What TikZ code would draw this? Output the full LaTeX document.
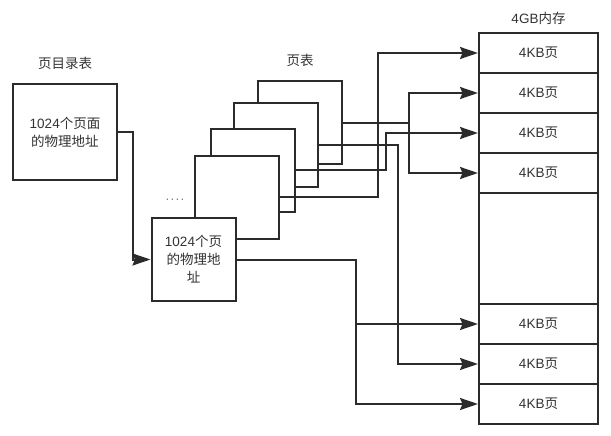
\documentclass[tikz,border=0pt]{standalone}
\usepackage{fontspec}
\setmainfont{Liberation Sans}
\newfontfamily\cjk{Noto Sans CJK SC}
\usetikzlibrary{arrows.meta}
\definecolor{lc}{HTML}{2B2B2B}
\definecolor{tc}{HTML}{333333}
\begin{document}
\begin{tikzpicture}[x=1pt,y=-1pt,
  box/.style={draw=lc, line width=2pt, fill=white, inner sep=0pt, align=center, text=tc,
    font=\fontsize{13.5}{18}\selectfont},
  ptbox/.style={box, minimum width=84pt, minimum height=83pt},
  mem/.style={box, minimum width=119pt, minimum height=40pt},
  lbl/.style={text=tc, font=\fontsize{13.5}{16}\selectfont},
  conn/.style={draw=lc, line width=2pt},
  arr/.style={conn, -{Stealth[length=18pt,width=12pt,inset=2.5pt]}}]
\useasboundingbox (0,0) rectangle (611,436);

% titles
\node[lbl] (tdir) at (65,63) {{\cjk 页目录表}};
\node[lbl] (tpt) at (300,60) {{\cjk 页表}};
\node[lbl] (tmem) at (538.5,18) {4GB{\cjk 内存}};

% page directory
\node[box, minimum width=104pt, minimum height=96pt] (dir) at (65,132)
  {1024{\cjk 个页面}\\{\cjk 的物理地址}};

% page tables (back to front)
\node[ptbox] (p5) at (299.5,122.5) {};
\node[ptbox] (p4) at (276,145) {};
\node[ptbox] (p3) at (252.5,170) {};
\node[ptbox] (p2) at (237,197) {};
\node[lbl, anchor=base, text=gray] (dots) at (175,200) {.\kern1.3pt.\kern1.3pt.\kern1.3pt.};
\node[ptbox] (p1) at (193.5,259.5) {1024{\cjk 个页}\\{\cjk 的物理地}\\{\cjk 址}};

% memory
\node[mem] (m1) at (538.5,53) {4KB{\cjk 页}};
\node[mem] (m2) at (538.5,93) {4KB{\cjk 页}};
\node[mem] (m3) at (538.5,133) {4KB{\cjk 页}};
\node[mem] (m4) at (538.5,173) {4KB{\cjk 页}};
\node[box, minimum width=119pt, minimum height=111pt] (mgap) at (538.5,248.5) {};
\node[mem] (m6) at (538.5,324) {4KB{\cjk 页}};
\node[mem] (m7) at (538.5,364) {4KB{\cjk 页}};
\node[mem] (m8) at (538.5,404) {4KB{\cjk 页}};

% routing columns
\coordinate (x1) at (378,0);
\coordinate (x2) at (409,0);
\coordinate (x3) at (386,0);
\coordinate (x4) at (398,0);
\coordinate (x5) at (356,0);
\coordinate (x6) at (133,0);

% connectors
\draw[arr] (dir.east) -| (x6 |- p1.west) -- (p1.west);
\draw[arr] (p2.east) -| (x1 |- m1.west) -- (m1.west);
\draw[arr] (p5.east) -| (x2 |- m2.west) -- (m2.west);
\draw[arr] (p5.east -| x2) |- (m4.west);
\draw[arr] (p3.east) -| (x3 |- m3.west) -- (m3.west);
\draw[arr] (p4.east) -| (x4 |- m7.west) -- (m7.west);
\draw[arr] (p1.east) -| (x5 |- m8.west) -- (m8.west);
\draw[arr] (p1.east -| x5) |- (m6.west);
\end{tikzpicture}
\end{document}
